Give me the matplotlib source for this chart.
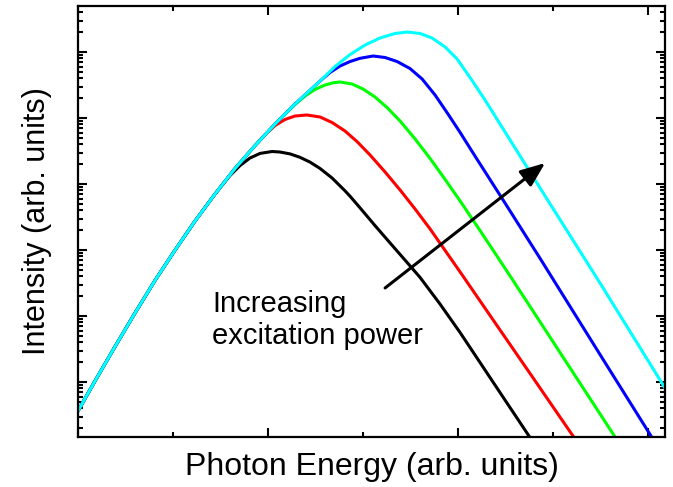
import matplotlib
matplotlib.use("Agg")
import matplotlib.pyplot as plt
import matplotlib.ticker as ticker

plt.rcParams['font.family'] = ['Liberation Sans', 'DejaVu Sans']

# photon energy (arb. units) and intensity (arb. units)
# low-energy side shared by all five spectra
rise_x = [0.000, 0.0895, 0.195, 0.300, 0.405, 0.511, 0.616, 0.721, 0.826]
rise_y = [0.364, 1.036, 3.451, 11.11, 34.51, 100, 275.1, 705.5, 1717]

black_x = rise_x[:8] + [0.800, 0.853, 0.905, 0.958, 1.021, 1.063, 1.116, 1.168, 1.221, 1.274,
                       1.337, 1.405, 1.432, 1.484, 1.563, 1.642, 1.721, 1.800, 1.905, 2.011,
                       2.116, 2.221, 2.379, 2.458]
black_y = rise_y[:8] + [1345, 1907, 2477, 2908, 3108, 3053, 2858, 2538, 2147, 1717,
                       1233, 788.9, 651, 436, 234.3, 128.1, 70.31, 38.45, 15.2, 5.604,
                       1.967, 0.691, 0.1437, 0.0658]

red_x = rise_x + [0.932, 0.984, 1.037, 1.089, 1.142, 1.205, 1.274, 1.337, 1.405, 1.468,
                  1.537, 1.616, 1.695, 1.774, 1.853, 1.932, 2.011, 2.116, 2.221, 2.379,
                  2.605, 2.695]
red_y = rise_y + [3831, 5566, 7697, 9491, 10720, 11110, 10355, 8549, 6353, 4405,
                  2750, 1520, 811.3, 418, 208.1, 98.3, 46.42, 16.88, 6.136, 1.345,
                  0.152, 0.0646]

green_x = rise_x + [0.932, 1.037, 1.142, 1.195, 1.247, 1.300, 1.342, 1.379, 1.442, 1.500,
                    1.563, 1.626, 1.695, 1.774, 1.853, 1.932, 2.011, 2.089, 2.168, 2.274,
                    2.432, 2.816, 2.905]
green_y = rise_y + [3831, 8113, 16010, 21540, 27030, 31620, 34150, 35120, 32750, 27500,
                    20810, 14430, 9006, 4807, 2435, 1170, 552.6, 256.6, 117, 40.37,
                    8.111, 0.163, 0.0658]

blue_x = rise_x + [0.932, 1.037, 1.142, 1.274, 1.326, 1.379, 1.432, 1.484, 1.553, 1.616,
                   1.679, 1.747, 1.811, 1.879, 1.947, 2.011, 2.089, 2.168, 2.247, 2.432,
                   2.747, 3.032, 3.089]
blue_y = rise_y + [3831, 8113, 16300, 36360, 48920, 61370, 71800, 80280, 86990, 82550,
                   71800, 56230, 38980, 22310, 11500, 6030, 2656, 1170, 515.3, 74.33,
                   2.61, 0.1277, 0.0693]

cyan_x = rise_x + [0.932, 1.037, 1.142, 1.274, 1.353, 1.432, 1.511, 1.589, 1.668, 1.732,
                   1.800, 1.863, 1.932, 1.995, 2.063, 2.142, 2.221, 2.300, 2.468, 2.747,
                   3.089]
cyan_y = rise_y + [3831, 8113, 16300, 36360, 60300, 91640, 127700, 163000, 190700, 200900,
                   190700, 163000, 119100, 78320, 41080, 18740, 8113, 3512, 592.7, 31.62,
                   0.811]

arrow_tail = (1.616, 26.6)
arrow_tip = (2.458, 2080)

fig = plt.figure(figsize=(6.73, 4.87), dpi=100)
ax = fig.add_axes([78/673, 50/487, 587/673, 431/487])

ax.plot(black_x, black_y, color='black', lw=2.2)
ax.plot(red_x, red_y, color='#ff0000', lw=2.2)
ax.plot(green_x, green_y, color='#00ff00', lw=2.2)
ax.plot(blue_x, blue_y, color='#0000ff', lw=2.2)
ax.plot(cyan_x, cyan_y, color='#00ffff', lw=2.2)

ax.set_yscale('log')
ax.set_xlim(0, 3.089)
ax.set_ylim(10**-0.833, 10**5.697)

ax.xaxis.set_major_locator(ticker.MultipleLocator(1))
ax.xaxis.set_minor_locator(ticker.MultipleLocator(0.5))
ax.yaxis.set_major_locator(ticker.LogLocator(base=10, numticks=20))
ax.yaxis.set_minor_locator(ticker.LogLocator(base=10, subs=range(2, 10), numticks=20))
ax.xaxis.set_major_formatter(ticker.NullFormatter())
ax.xaxis.set_minor_formatter(ticker.NullFormatter())
ax.yaxis.set_major_formatter(ticker.NullFormatter())
ax.yaxis.set_minor_formatter(ticker.NullFormatter())
ax.tick_params(which='both', direction='in', top=True, right=True, width=1.5, color='black')
ax.tick_params(which='major', length=6.5)
ax.tick_params(which='minor', length=3.6)
for s in ax.spines.values():
    s.set_linewidth(1.6)

ax.annotate('', xy=arrow_tip, xytext=arrow_tail,
            arrowprops=dict(arrowstyle='-|>,head_length=0.75,head_width=0.3',
                            mutation_scale=20, color='black', lw=2.2,
                            shrinkA=0, shrinkB=0))
ax.text(0.705, 3.77, 'Increasing\nexcitation power', fontsize=21,
        ha='left', va='baseline', linespacing=1.2)

ax.set_xlabel('Photon Energy (arb. units)', fontsize=23, labelpad=7)
ax.set_ylabel('Intensity (arb. units)', fontsize=22, labelpad=15.5)

fig.savefig('out.png', dpi=100)
